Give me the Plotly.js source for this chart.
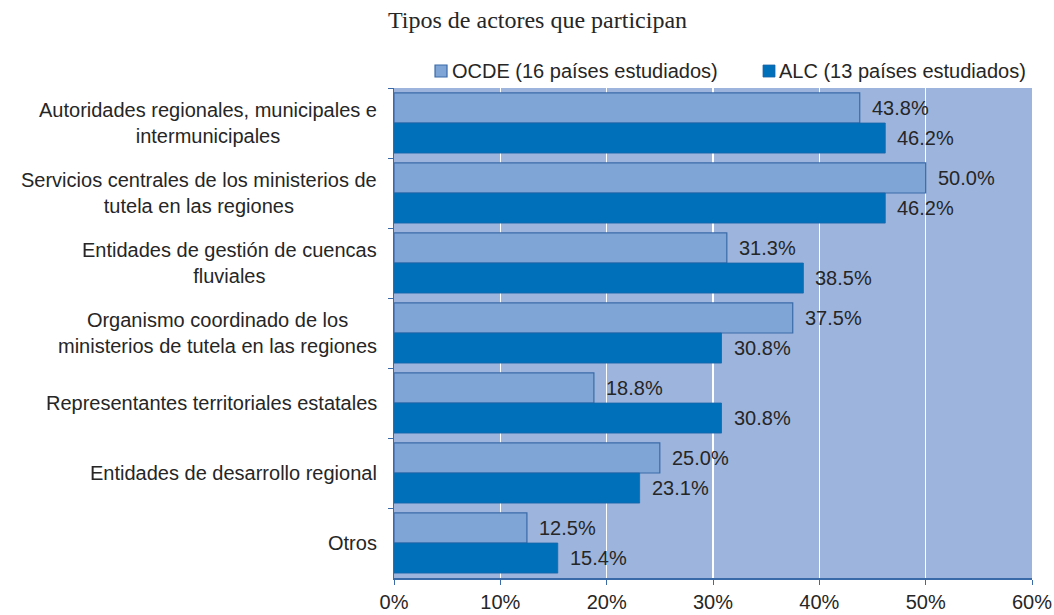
<!DOCTYPE html>
<html>
<head>
<meta charset="utf-8">
<script src="https://cdn.plot.ly/plotly-3.0.1.min.js"></script>
<style>html,body{margin:0;padding:0;background:#fff;}#chart{width:1054px;height:615px;}</style>
</head>
<body>
<div id="chart"></div>
<script>
var categories = [
  "Autoridades regionales, municipales e<br>intermunicipales",
  "Servicios centrales de los ministerios de<br>tutela en las regiones",
  "Entidades de gestión de cuencas<br>fluviales",
  "Organismo coordinado de los<br>ministerios de tutela en las regiones",
  "Representantes territoriales estatales",
  "Entidades de desarrollo regional",
  "Otros"
];
var ocdeValues = [43.8, 50.0, 31.3, 37.5, 18.8, 25.0, 12.5];
var alcValues = [46.2, 46.2, 38.5, 30.8, 30.8, 23.1, 15.4];
var seriesNames = ["OCDE (16 países estudiados)", "ALC (13 países estudiados)"];
var xTickVals = [0, 10, 20, 30, 40, 50, 60];
var xTickText = ["0%", "10%", "20%", "30%", "40%", "50%", "60%"];
var titleText = "Tipos de actores que participan";

var font = "Liberation Sans, Arial, sans-serif";
var txtColor = "#262626";
var ocdeColor = "#7FA4D6", ocdeLine = "#3A6AA8";
var alcColor = "#0070BA", alcLine = "#1A64A8";
var bargap = 0.14;
var half = (1 - bargap) / 4;

function fmt(v){ return v.toFixed(1) + "%"; }

var traces = [
  {
    type: "bar", orientation: "h", name: seriesNames[0],
    y: categories, x: ocdeValues,
    marker: {color: ocdeColor, line: {color: ocdeLine, width: 1.2}},
    hoverinfo: "none", showlegend: false
  },
  {
    type: "bar", orientation: "h", name: seriesNames[1],
    y: categories, x: alcValues,
    marker: {color: alcColor, line: {color: alcLine, width: 0.8}},
    hoverinfo: "none", showlegend: false
  }
];

var annotations = [];
categories.forEach(function(c, i){
  annotations.push({
    xref: "paper", yref: "y", x: 0, y: i, xshift: -15,
    xanchor: "right", yanchor: "middle", align: "center",
    text: c, showarrow: false,
    font: {family: font, size: 20, color: txtColor}
  });
  annotations.push({
    xref: "x", yref: "y", x: ocdeValues[i], y: i - half, xshift: 10,
    xanchor: "left", yanchor: "middle",
    text: fmt(ocdeValues[i]), showarrow: false,
    font: {family: font, size: 20, color: txtColor}
  });
  annotations.push({
    xref: "x", yref: "y", x: alcValues[i], y: i + half, xshift: 10,
    xanchor: "left", yanchor: "middle",
    text: fmt(alcValues[i]), showarrow: false,
    font: {family: font, size: 20, color: txtColor}
  });
});
annotations.push({
  xref: "paper", yref: "paper", x: 0.2257, y: 1, yshift: 68,
  xanchor: "center", yanchor: "middle",
  text: titleText, showarrow: false,
  font: {family: "Liberation Serif, Times New Roman, serif", size: 24, color: txtColor}
});
// legend texts
annotations.push({
  xref: "paper", yref: "paper", x: 0.0878, y: 1.0347,
  xanchor: "left", yanchor: "middle", text: seriesNames[0], showarrow: false,
  font: {family: font, size: 20, color: txtColor}
});
annotations.push({
  xref: "paper", yref: "paper", x: 0.6003, y: 1.0347,
  xanchor: "left", yanchor: "middle", text: seriesNames[1], showarrow: false,
  font: {family: font, size: 20, color: txtColor}
});

var shapes = [
  {type: "rect", xref: "paper", yref: "paper", x0: 0.0643, x1: 0.0831, y0: 1.0224, y1: 1.0469,
   fillcolor: ocdeColor, line: {color: ocdeLine, width: 1.2}},
  {type: "rect", xref: "paper", yref: "paper", x0: 0.5784, x1: 0.5972, y0: 1.0224, y1: 1.0469,
   fillcolor: alcColor, line: {color: alcLine, width: 0.8}}
];

var layout = {
  width: 1054, height: 615,
  margin: {l: 394, r: 22, t: 88, b: 37, pad: 0},
  paper_bgcolor: "#ffffff",
  plot_bgcolor: "#9DB5DD",
  barmode: "group",
  bargap: bargap,
  bargroupgap: 0,
  showlegend: false,
  xaxis: {
    range: [0, 60], tickvals: xTickVals, ticktext: xTickText,
    showgrid: true, gridcolor: "#ffffff", gridwidth: 1.5,
    zeroline: false,
    showline: true, linecolor: "#3A6AA8", linewidth: 1.5,
    ticks: "outside", ticklen: 5, tickcolor: "#3A6AA8",
    tickfont: {family: font, size: 20, color: txtColor},
    fixedrange: true
  },
  yaxis: {
    type: "category", autorange: "reversed",
    showticklabels: false,
    showgrid: false, zeroline: false,
    showline: true, linecolor: "#3A6AA8", linewidth: 1.5,
    ticks: "outside", tickson: "boundaries", ticklen: 5, tickcolor: "#3A6AA8",
    fixedrange: true
  },
  annotations: annotations,
  shapes: shapes
};

Plotly.newPlot("chart", traces, layout, {displayModeBar: false, staticPlot: true});
</script>
</body>
</html>
